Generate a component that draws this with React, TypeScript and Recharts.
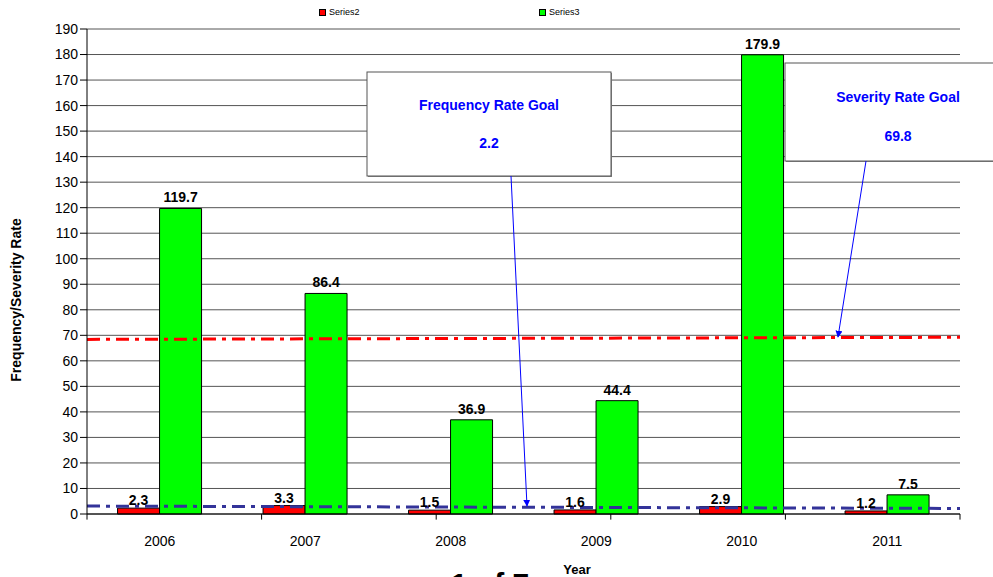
import React from 'react';
import {
  Bar,
  BarChart,
  CartesianGrid,
  LabelList,
  ReferenceLine,
  XAxis,
  YAxis,
} from 'recharts';

const years = ['2006', '2007', '2008', '2009', '2010', '2011'];
const series2 = [2.3, 3.3, 1.5, 1.6, 2.9, 1.2];
const series3 = [119.7, 86.4, 36.9, 44.4, 179.9, 7.5];
const yTicks = [0, 10, 20, 30, 40, 50, 60, 70, 80, 90, 100, 110, 120, 130, 140, 150, 160, 170, 180, 190];

// trend lines (value at left edge, value at right edge)
const freqTrend = [3.1, 2.0];
const sevTrend = [68.4, 69.4];
const boundaryTicks = [0, 1, 2, 3, 4, 5, 6];

const data = years.map((year, i) => ({ year, series2: series2[i], series3: series3[i] }));

const W = 993;
const H = 577;
const FONT = '"Liberation Sans", Arial, sans-serif';

function Legend() {
  return (
    <div style={{ position: 'absolute', left: 0, top: 0, width: W, height: 24, fontFamily: FONT, fontSize: 9, color: '#000' }}>
      <div style={{ position: 'absolute', left: 319, top: 7, display: 'flex', alignItems: 'center' }}>
        <span style={{ width: 5, height: 5, background: '#ff0000', border: '1px solid #000', marginRight: 3 }} />
        Series2
      </div>
      <div style={{ position: 'absolute', left: 539, top: 7, display: 'flex', alignItems: 'center' }}>
        <span style={{ width: 5, height: 5, background: '#00ff00', border: '1px solid #000', marginRight: 3 }} />
        Series3
      </div>
    </div>
  );
}

function Callouts() {
  const blue = '#0000ff';
  return (
    <svg width={W} height={H} style={{ position: 'absolute', left: 0, top: 0, pointerEvents: 'none' }}>
      <defs>
        <marker id="arrow" viewBox="0 0 10 10" refX="9" refY="5" markerWidth="7" markerHeight="7" orient="auto">
          <path d="M0,0 L10,5 L0,10 z" fill={blue} />
        </marker>
      </defs>
      {/* Frequency box */}
      <rect x={368} y={73} width={244} height={104} fill="#888" />
      <rect x={367} y={72} width={244} height={104} fill="#fff" stroke="#555" strokeWidth={1} />
      <text x={489} y={110} textAnchor="middle" fill={blue} fontFamily={FONT} fontSize={14} fontWeight="bold">
        Frequency Rate Goal
      </text>
      <text x={489} y={148} textAnchor="middle" fill={blue} fontFamily={FONT} fontSize={14} fontWeight="bold">
        2.2
      </text>
      <line x1={511} y1={176} x2={527} y2={506} stroke={blue} strokeWidth={1} markerEnd="url(#arrow)" />
      {/* Severity box */}
      <rect x={786} y={64} width={220} height={98} fill="#888" />
      <rect x={785} y={63} width={220} height={98} fill="#fff" stroke="#555" strokeWidth={1} />
      <text x={898} y={102} textAnchor="middle" fill={blue} fontFamily={FONT} fontSize={14} fontWeight="bold">
        Severity Rate Goal
      </text>
      <text x={898} y={141} textAnchor="middle" fill={blue} fontFamily={FONT} fontSize={14} fontWeight="bold">
        69.8
      </text>
      <line x1={866} y1={161} x2={838} y2={337} stroke={blue} strokeWidth={1} markerEnd="url(#arrow)" />
      {/* axis titles */}
      <text
        x={21}
        y={300}
        transform="rotate(-90 21 300)"
        textAnchor="middle"
        fontFamily={FONT}
        fontSize={14}
        fontWeight="bold"
        fill="#000"
      >
        Frequency/Severity Rate
      </text>
      <text x={577} y={574} textAnchor="middle" fontFamily={FONT} fontSize={13} fontWeight="bold" fill="#000">
        Year
      </text>
      <text x={490} y={594} textAnchor="middle" fontFamily={FONT} fontSize={30} fontWeight="bold" fill="#000">
        1 of 7
      </text>
    </svg>
  );
}

export default function App() {
  return (
    <div style={{ position: 'absolute', left: 0, top: 0, width: W, height: H, background: '#fff', overflow: 'hidden' }}>
      <BarChart
        width={W}
        height={H}
        data={data}
        margin={{ top: 29, right: 33, bottom: 0, left: 0 }}
        barCategoryGap="21%"
        barGap={0}
      >
        <CartesianGrid horizontal vertical={false} stroke="#555" strokeWidth={1} />
        <XAxis
          dataKey="year"
          tickLine={false}
          axisLine={{ stroke: '#000' }}
          tick={{ fill: '#000', fontSize: 14, fontFamily: FONT }}
          tickMargin={16}
          height={63}
        />
        <XAxis xAxisId="num" type="number" domain={[0, 6]} allowDataOverflow hide />
        <YAxis
          domain={[0, 190]}
          ticks={yTicks}
          interval={0}
          width={87}
          axisLine={{ stroke: '#000' }}
          tickLine={{ stroke: '#000' }}
          tickSize={7}
          tick={{ fill: '#000', fontSize: 14, fontFamily: FONT }}
        />
        {/* right border */}
        <ReferenceLine xAxisId="num" x={6} stroke="#666" strokeWidth={1} />
        {/* category boundary ticks */}
        {boundaryTicks.map((t) => (
          <ReferenceLine
            key={t}
            xAxisId="num"
            segment={[{ x: t, y: 0 }, { x: t, y: -2.2 }]}
            stroke={t === 6 ? '#666' : '#000'}
            ifOverflow="visible"
          />
        ))}
        <Bar dataKey="series2" fill="#ff0000" stroke="#000" strokeWidth={1} isAnimationActive={false}>
          <LabelList dataKey="series2" position="top" offset={3} fill="#000" fontSize={14} fontWeight="bold" fontFamily={FONT} />
        </Bar>
        <Bar dataKey="series3" fill="#00ff00" stroke="#000" strokeWidth={1} isAnimationActive={false}>
          <LabelList dataKey="series3" position="top" offset={6} fill="#000" fontSize={14} fontWeight="bold" fontFamily={FONT} />
        </Bar>
        <ReferenceLine
          xAxisId="num"
          segment={[{ x: 0, y: sevTrend[0] }, { x: 6, y: sevTrend[1] }]}
          stroke="#ff0000"
          strokeWidth={3}
          strokeDasharray="13 6 4 6"
          ifOverflow="hidden"
        />
        <ReferenceLine
          xAxisId="num"
          segment={[{ x: 0, y: freqTrend[0] }, { x: 6, y: freqTrend[1] }]}
          stroke="#333399"
          strokeWidth={3}
          strokeDasharray="13 6 4 6"
          ifOverflow="hidden"
        />
      </BarChart>
      <Legend />
      <Callouts />
    </div>
  );
}
